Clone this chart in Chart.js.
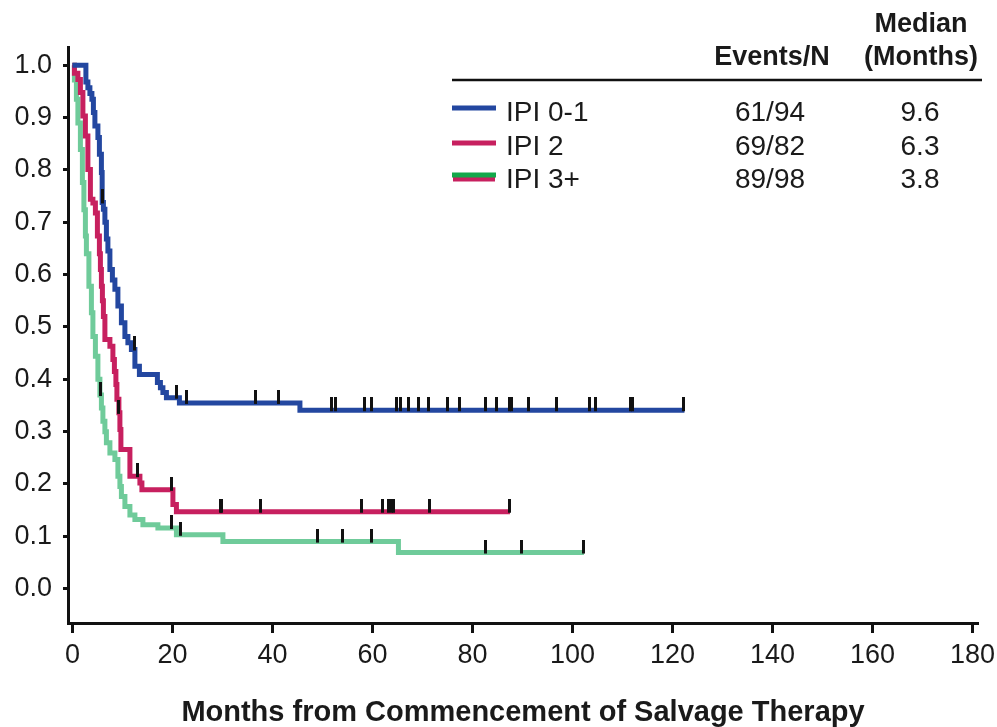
<!DOCTYPE html>
<html>
<head>
<meta charset="utf-8">
<script src="https://cdn.jsdelivr.net/npm/chart.js@4.4.0/dist/chart.umd.min.js"></script>
<style>
  body { margin: 0; background: #fff; }
  #kmChart { display: block; }
</style>
</head>
<body>
<canvas id="kmChart" width="997" height="727"></canvas>
<script>
// Groups shown in the table at the top right
const groupLabels = ["IPI 0-1", "IPI 2", "IPI 3+"];
const groupEvents = ["61/94", "69/82", "89/98"];
const groupMedians = ["9.6", "6.3", "3.8"];

// Kaplan-Meier steps (month, survival after the drop)
const ipi01Months = [0, 2.7, 3.1, 3.5, 3.9, 4.2, 4.5, 5.1, 5.4, 5.8, 5.95, 6.2, 6.5, 6.8, 7.1, 7.5, 8.0, 8.5, 9.1, 9.8, 10.5, 11.1, 11.8, 12.5, 13.4, 17.0, 17.6, 18.1, 18.8, 21.4, 45.5, 122.4];
const ipi01Surv = [1.0, 0.968, 0.957, 0.946, 0.935, 0.91, 0.884, 0.862, 0.83, 0.795, 0.738, 0.725, 0.7, 0.668, 0.645, 0.61, 0.59, 0.572, 0.54, 0.508, 0.482, 0.47, 0.457, 0.425, 0.409, 0.394, 0.384, 0.375, 0.365, 0.355, 0.341, 0.341];
const ipi01Censored = [6.0, 12.4, 20.8, 22.8, 36.6, 41.3, 51.8, 52.6, 58.5, 59.9, 64.9, 65.6, 67.3, 69.3, 71.3, 75.0, 77.5, 82.6, 84.8, 87.5, 87.9, 91.3, 96.9, 103.5, 104.7, 111.6, 112.0, 122.3];

const ipi2Months = [0, 0.4, 1.1, 1.6, 2.1, 2.6, 3.1, 3.6, 4.1, 4.6, 5.0, 5.4, 5.6, 5.8, 6.0, 6.2, 6.5, 7.5, 8.1, 8.4, 8.7, 8.9, 9.3, 9.5, 9.7, 11.5, 13.5, 13.9, 20.1, 20.8, 87.5];
const ipi2Surv = [1.0, 0.985, 0.973, 0.948, 0.903, 0.865, 0.801, 0.744, 0.737, 0.718, 0.674, 0.64, 0.61, 0.578, 0.55, 0.52, 0.476, 0.463, 0.438, 0.415, 0.39, 0.362, 0.336, 0.304, 0.266, 0.215, 0.202, 0.189, 0.161, 0.147, 0.147];
const ipi2Censored = [9.3, 13.0, 19.8, 29.7, 29.9, 37.6, 57.8, 62.1, 63.3, 63.9, 64.3, 71.5, 87.5];

const ipi3Months = [0, 0.4, 0.8, 1.1, 1.6, 2.0, 2.3, 2.6, 2.8, 3.3, 3.8, 4.1, 4.6, 5.1, 5.5, 5.8, 6.1, 6.5, 6.8, 7.5, 8.5, 9.1, 9.5, 9.8, 10.5, 11.5, 12.5, 14.1, 17.1, 20.8, 30.1, 65.2, 102.3];
const ipi3Surv = [1.0, 0.972, 0.935, 0.89, 0.839, 0.776, 0.724, 0.674, 0.64, 0.578, 0.527, 0.482, 0.444, 0.4, 0.37, 0.345, 0.32, 0.3, 0.279, 0.259, 0.247, 0.215, 0.195, 0.176, 0.157, 0.141, 0.132, 0.122, 0.116, 0.103, 0.09, 0.069, 0.069];
const ipi3Censored = [5.7, 19.8, 21.6, 49.1, 54.0, 59.9, 82.6, 89.8, 102.3];

// Axis ticks
const xTicks = [0, 20, 40, 60, 80, 100, 120, 140, 160, 180];
const yTicks = [0, 0.1, 0.2, 0.3, 0.4, 0.5, 0.6, 0.7, 0.8, 0.9, 1.0];

const colors = ["#2347a0", "#c7205f", "#6fcb9a"];
const FONT = "'Liberation Sans', Arial, sans-serif";

function toPoints(months, surv) {
  return months.map((m, i) => ({ x: m, y: surv[i] }));
}

// survival level of a step curve at month t
function levelAt(months, surv, t) {
  let v = surv[0];
  for (let i = 0; i < months.length; i++) {
    if (months[i] <= t) v = surv[i];
  }
  return v;
}

// censor mark: short vertical bar sitting on top of the curve
const censorMark = document.createElement("canvas");
censorMark.width = 3;
censorMark.height = 26;
(function () {
  const c = censorMark.getContext("2d");
  c.fillStyle = "#111";
  c.fillRect(0, 0, 3, 14);
})();

const curves = [
  [ipi01Months, ipi01Surv, ipi01Censored],
  [ipi2Months, ipi2Surv, ipi2Censored],
  [ipi3Months, ipi3Surv, ipi3Censored]
];

const datasets = [];
curves.forEach((c, i) => {
  datasets.push({
    label: groupLabels[i],
    data: toPoints(c[0], c[1]),
    borderColor: colors[i],
    borderWidth: 5,
    stepped: "before",
    pointRadius: 0,
    fill: false,
    order: 10 + i
  });
});
curves.forEach((c, i) => {
  datasets.push({
    label: groupLabels[i] + " censored",
    data: c[2].map(t => ({ x: t, y: levelAt(c[0], c[1], t) })),
    showLine: false,
    pointStyle: censorMark,
    pointRadius: 3,
    order: 1
  });
});

// Events / median table in the upper right
const tablePlugin = {
  id: "kmTable",
  afterDraw(chart) {
    const ctx = chart.ctx;
    ctx.save();
    ctx.fillStyle = "#1a1a1a";
    ctx.textAlign = "center";
    ctx.textBaseline = "alphabetic";
    ctx.font = "bold 27px " + FONT;
    ctx.fillText("Median", 921, 32);
    ctx.fillText("(Months)", 921, 65);
    ctx.fillText("Events/N", 772, 65);

    ctx.strokeStyle = "#111";
    ctx.lineWidth = 2.5;
    ctx.beginPath();
    ctx.moveTo(452, 80);
    ctx.lineTo(982, 80);
    ctx.stroke();

    const rowBase = [121, 155, 188];
    const lineY = [108, 143, 175];
    ctx.font = "28px " + FONT;
    groupLabels.forEach((lab, i) => {
      ctx.lineWidth = 5;
      if (i === 2) {
        // the IPI 3+ swatch shows a pink line under the green one
        ctx.strokeStyle = colors[1];
        ctx.beginPath();
        ctx.moveTo(453, lineY[i] + 4);
        ctx.lineTo(495, lineY[i] + 4);
        ctx.stroke();
        ctx.strokeStyle = "#12a84a";
      } else {
        ctx.strokeStyle = colors[i];
      }
      ctx.beginPath();
      ctx.moveTo(452, lineY[i]);
      ctx.lineTo(496, lineY[i]);
      ctx.stroke();

      ctx.textAlign = "left";
      ctx.fillText(lab, 506, rowBase[i]);
      ctx.textAlign = "center";
      ctx.fillText(groupEvents[i], 770, rowBase[i]);
      ctx.fillText(groupMedians[i], 920, rowBase[i]);
    });
    ctx.restore();
  }
};

new Chart(document.getElementById("kmChart").getContext("2d"), {
  type: "line",
  data: { datasets: datasets },
  options: {
    responsive: false,
    animation: false,
    layout: { padding: { top: 47, right: 19, left: 0, bottom: 0 } },
    plugins: {
      legend: { display: false },
      tooltip: { enabled: false }
    },
    scales: {
      x: {
        type: "linear",
        min: -0.88,
        max: 181.1,
        afterBuildTicks: s => { s.ticks = xTicks.map(v => ({ value: v })); },
        afterFit: s => {
          s.height = 104;
          s.paddingLeft = 0;
          s.paddingRight = 0;
        },
        ticks: {
          color: "#1a1a1a",
          font: { family: FONT, size: 27 },
          padding: 6,
          maxRotation: 0,
          callback: v => String(v)
        },
        grid: { drawOnChartArea: false, drawTicks: true, tickLength: 10, tickWidth: 3, tickColor: "#111" },
        border: { display: true, color: "#111", width: 3 },
        title: {
          display: true,
          text: "Months from Commencement of Salvage Therapy",
          color: "#1a1a1a",
          font: { family: FONT, size: 29, weight: "bold" },
          padding: { top: 10, bottom: -3 }
        }
      },
      y: {
        type: "linear",
        min: -0.0656,
        max: 1.035,
        afterBuildTicks: s => { s.ticks = yTicks.map(v => ({ value: v })); },
        afterFit: s => { s.width = 68; },
        ticks: {
          color: "#1a1a1a",
          font: { family: FONT, size: 27 },
          padding: 11,
          callback: v => v.toFixed(1)
        },
        grid: { drawOnChartArea: false, drawTicks: true, tickLength: 5, tickWidth: 3, tickColor: "#111" },
        border: { display: true, color: "#111", width: 3 }
      }
    }
  },
  plugins: [tablePlugin]
});
</script>
</body>
</html>
